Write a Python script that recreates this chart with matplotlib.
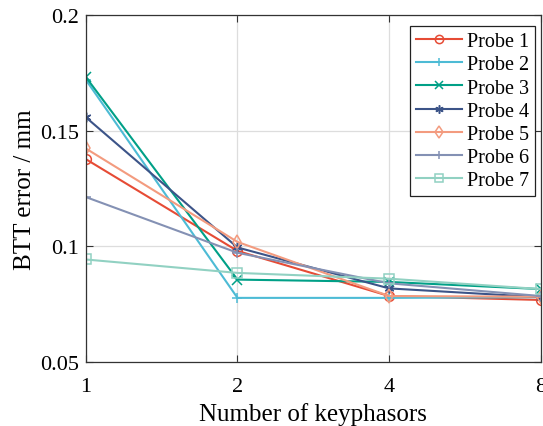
import matplotlib.pyplot as plt
import numpy as np

plt.rcParams['font.family'] = ['Liberation Serif', 'DejaVu Serif']

# data
keyphasors = ['1', '2', '4', '8']
probe1 = [0.1377, 0.0980, 0.0785, 0.0768]
probe2 = [0.1720, 0.0777, 0.0777, 0.0780]
probe3 = [0.1732, 0.0856, 0.0846, 0.0815]
probe4 = [0.1558, 0.0995, 0.0818, 0.0780]
probe5 = [0.1423, 0.1019, 0.0785, 0.0782]
probe6 = [0.1213, 0.0972, 0.0840, 0.0785]
probe7 = [0.0943, 0.0885, 0.0860, 0.0815]

series = [probe1, probe2, probe3, probe4, probe5, probe6, probe7]
names = ['Probe %d' % (i + 1) for i in range(7)]
colors = ['#E64B35', '#4DBBD5', '#00A087', '#3C5488', '#F39B7F', '#8491B4', '#91D1C2']
markers = ['o', '+', 'x', (6, 2, 0), 'd', '+', 's']

fig = plt.figure(figsize=(5.43, 4.27), dpi=100)
ax = fig.add_axes([0.158, 0.15, 0.838, 0.8125])

x = np.arange(len(keyphasors))
for vals, name, c, m in zip(series, names, colors, markers):
    ax.plot(x, vals, color=c, marker=m, markersize=7, markerfacecolor='none',
            markeredgewidth=1.1, linewidth=1.5, label=name)

ax.set_xlim(0, 3)
ax.set_ylim(0.05, 0.2)
ax.set_xticks(x)
ax.set_xticklabels(keyphasors)
ax.set_yticks([0.05, 0.1, 0.15, 0.2])
ax.set_yticklabels(['0.05', '0.1', '0.15', '0.2'])
ax.grid(True, color='#DDDDDD', linewidth=0.9)
ax.tick_params(direction='in', length=5, labelsize=16, top=True, right=True,
               color='#333333', pad=5)
ax.tick_params(axis='x', pad=11)
for s in ax.spines.values():
    s.set_color('#333333')
    s.set_linewidth(0.9)

ax.set_xlabel('Number of keyphasors', fontsize=18, labelpad=4)
ax.set_ylabel('BTT error / mm', fontsize=18, labelpad=3)

leg = ax.legend(loc='upper right', fontsize=14.5, fancybox=False, framealpha=1,
                edgecolor='#222222', handlelength=2.3, borderpad=0.3,
                labelspacing=0.2, handletextpad=0.25, borderaxespad=0,
                bbox_to_anchor=(0.988, 0.968), markerscale=0.85)
leg.get_frame().set_linewidth(0.9)

fig.savefig('out.png', dpi=100)
